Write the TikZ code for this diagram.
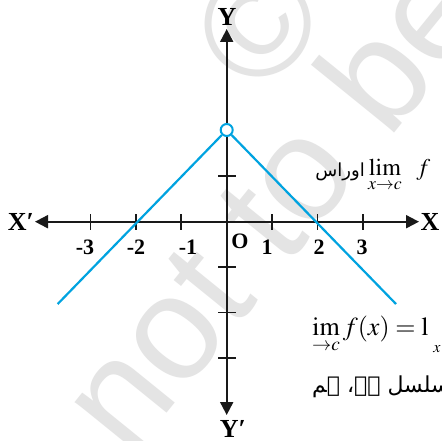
\documentclass[tikz,border=0pt]{standalone}
\usepackage{mathptmx}
\usepackage{fontspec}
\setmainfont{Liberation Serif}
\newfontfamily\wmfont{Liberation Sans}
\newfontfamily\urdufont[Script=Arabic]{DejaVu Sans}
\usetikzlibrary{arrows.meta}
\TeXXeTstate=1
\definecolor{graphblue}{RGB}{0,163,224}
\definecolor{wmgray}{RGB}{228,228,228}
\begin{document}
\begin{tikzpicture}[x=1pt,y=-1pt,
  axis/.style={line width=1.9pt, black!90},
  tickmark/.style={line width=1.9pt, black!90},
  graphline/.style={line width=2.2pt, graphblue},
  ticklabel/.style={font=\fontsize{22}{22}\selectfont\bfseries, inner sep=0pt},
  axislabel/.style={font=\fontsize{26}{26}\selectfont\bfseries, inner sep=0pt}
]
\clip (0,0) rectangle (441,441);
\fill[white] (0,0) rectangle (441,441);

% watermark
\node[wmgray, font=\wmfont\fontsize{148}{148}\selectfont, rotate=51, anchor=base, inner sep=0pt] (wm) at (311,236) {not to be};
\node[wmgray, font=\wmfont\fontsize{150}{150}\selectfont, rotate=51, inner sep=0pt] (copyr) at (258,24) {©};

% axes
\coordinate (O) at (226.7,221.7);
\coordinate (xl) at (35,221.7);
\coordinate (xr) at (419,221.7);
\coordinate (yt) at (226.7,29);
\coordinate (yb) at (226.7,415);
\draw[axis, {Triangle[length=13pt,width=13pt]}-{Triangle[length=13pt,width=13pt]}] (xl) -- (xr);
\draw[axis, {Triangle[length=13pt,width=13pt]}-{Triangle[length=13pt,width=13pt]}] (yb) -- (yt);

\foreach \k in {-3,-2,-1,1,2,3}
  \draw[tickmark] ({226.7+45.4*\k},214) -- ({226.7+45.4*\k},229.5);
\foreach \k in {1,-1,-2,-3}
  \draw[tickmark] (218,{221.7-45.4*\k}) -- (235.5,{221.7-45.4*\k});

% tick labels
\node[ticklabel] (lm3) at (85,247.5) {-3};
\node[ticklabel] (lm2) at (136,247.5) {-2};
\node[ticklabel] (lm1) at (188,247.5) {-1};
\node[ticklabel] (lO) at (240,241) {O};
\node[ticklabel] (lp1) at (267,247.5) {1};
\node[ticklabel] (lp2) at (319,247.5) {2};
\node[ticklabel] (lp3) at (362,247.5) {3};

% axis labels
\node[axislabel] (lX) at (430,222) {X};
\node[axislabel] (lXp) at (21,222) {X′};
\node[axislabel] (lY) at (227,17) {Y};
\node[axislabel] (lYp) at (233,429) {Y′};

% graph
\coordinate (le) at (57.7,304);
\coordinate (re) at (396,304);
\node[circle, draw=graphblue, line width=2pt, fill=white, minimum size=12pt, inner sep=0pt] (hole) at (226.7,130) {};
\draw[graphline] (le) -- (hole);
\draw[graphline] (hole) -- (re);

% surrounding text fragments
\node[anchor=base east, inner sep=0pt, font=\urdufont\fontsize{18}{18}\selectfont] (ur1) at (365,176) {\beginR اوراس\endR};
\node[anchor=base west, inner sep=0pt, font=\fontsize{24}{24}\selectfont] (lim1) at (368,175) {$\lim\limits_{x\to c}\mkern9mu f$};
\node[anchor=base west, inner sep=0pt, font=\fontsize{26}{26}\selectfont] (lim2) at (312,335) {$\mathop{\mathrm{im}}\limits_{\to c} f(x) = \mathrm{l}$};
\node[inner sep=0pt, font=\fontsize{16}{16}\selectfont] (xsub) at (437,349) {$x$};
\node[anchor=base west, inner sep=0pt, font=\urdufont\fontsize{22}{22}\selectfont] (ur2) at (312,392) {\beginR مسلسل ہے، ہم\endR};
\end{tikzpicture}
\end{document}
